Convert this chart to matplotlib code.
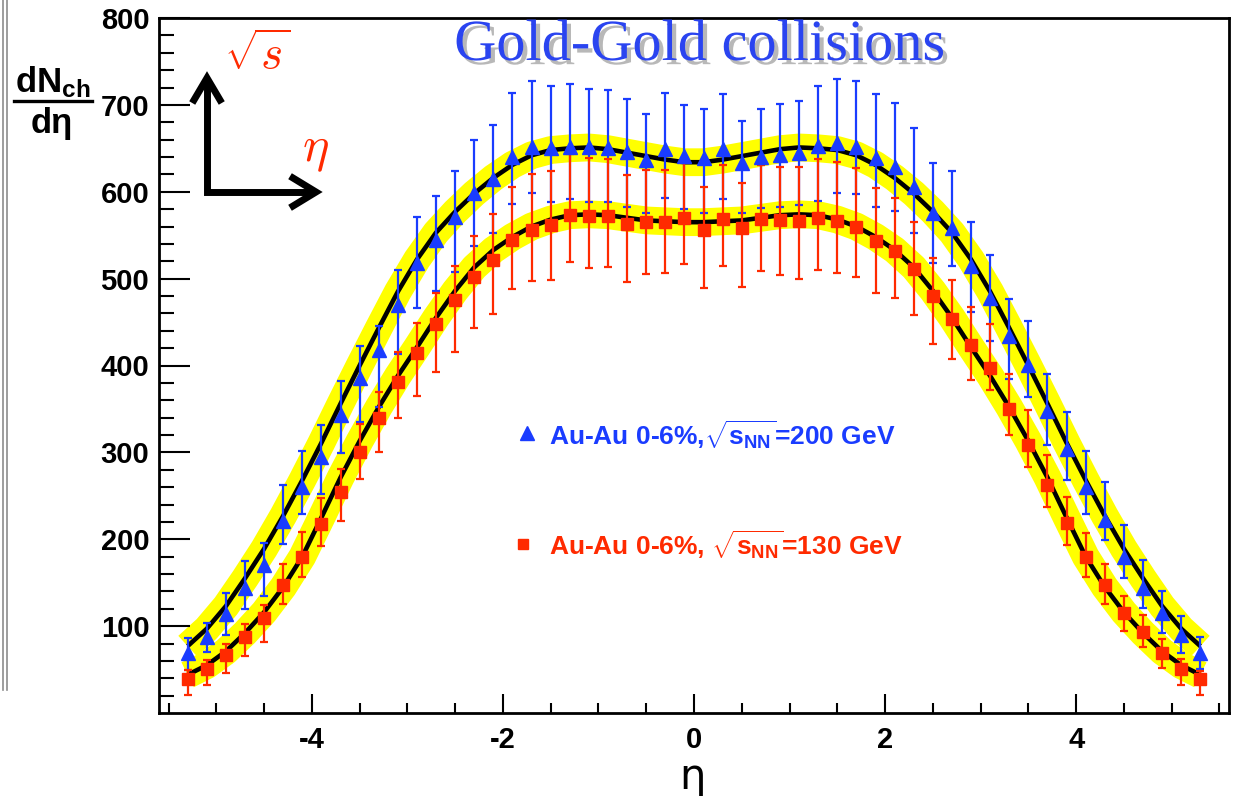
import numpy as np
import matplotlib
matplotlib.use("Agg")
import matplotlib.pyplot as plt
import matplotlib.patheffects as pe
from matplotlib.lines import Line2D

# pseudorapidity bins
eta = np.round(np.arange(-5.3, 5.31, 0.2), 1)

# Au-Au 200 GeV (value, top of bar, bottom of bar)
blue_val = [69, 87, 114, 144, 170, 221, 260, 295, 343, 386, 418, 470, 518, 544, 571, 598, 615, 640,
            651, 650, 651, 651, 650, 646, 636, 649, 641, 639, 649, 633, 640, 642, 645, 653, 656, 651,
            639, 629, 606, 575, 558, 515, 478, 434, 401, 348, 304, 260, 222, 180, 144, 115, 90, 69]
blue_hi = [86, 104, 138, 175, 196, 263, 302, 331, 382, 423, 445, 510, 571, 595, 624, 659, 677, 714,
           728, 722, 724, 718, 717, 707, 689, 714, 700, 695, 712, 682, 695, 701, 704, 722, 730, 728,
           712, 702, 673, 633, 624, 565, 527, 476, 451, 390, 346, 302, 266, 216, 176, 141, 112, 87]
blue_lo = [50, 70, 90, 120, 135, 195, 229, 252, 299, 335, 352, 413, 466, 486, 508, 538, 552, 586,
           598, 588, 592, 588, 588, 582, 576, 593, 580, 576, 592, 575, 581, 583, 585, 589, 598, 597,
           583, 578, 553, 518, 514, 462, 428, 384, 364, 308, 268, 229, 199, 155, 121, 92, 69, 51]

# Au-Au 130 GeV
red_val = [39, 51, 67, 88, 109, 147, 180, 218, 254, 301, 339, 381, 414, 448, 475, 502, 522, 544,
           556, 562, 573, 572, 572, 563, 565, 565, 570, 556, 569, 558, 569, 567, 566, 570, 566, 560,
           543, 532, 511, 480, 454, 424, 397, 350, 308, 262, 219, 180, 147, 115, 93, 69, 51, 39]
red_hi = [49, 61, 79, 102, 124, 172, 208, 248, 281, 333, 370, 416, 449, 484, 515, 549, 574, 606,
          620, 624, 644, 639, 638, 619, 625, 625, 633, 606, 631, 610, 631, 629, 628, 638, 634, 627,
          604, 593, 565, 524, 498, 467, 448, 390, 349, 297, 249, 207, 172, 135, 113, 85, 62, 48]
red_lo = [21, 32, 46, 66, 82, 125, 157, 192, 221, 269, 300, 339, 365, 392, 415, 443, 459, 488,
          497, 498, 519, 512, 513, 496, 505, 507, 517, 489, 514, 490, 509, 504, 500, 510, 507, 502,
          484, 478, 458, 425, 407, 383, 372, 320, 283, 237, 193, 156, 125, 94, 76, 52, 32, 21]

# fitted curves, |eta| = 0.1 ... 5.3
blue_fit_half = [634, 637, 641, 645, 649, 651, 650, 648, 642, 631, 616, 598, 577, 553, 522, 485,
                 443, 400, 356, 311, 268, 227, 189, 155, 123, 97, 77]
red_fit_half = [565, 566, 567, 570, 573, 574, 573, 568, 560, 548, 533, 513, 486, 455, 421, 388,
                352, 313, 271, 225, 180, 145, 116, 92, 71, 55, 44]
blue_fit = blue_fit_half[::-1] + blue_fit_half
red_fit = red_fit_half[::-1] + red_fit_half

BLUE = "#1a3cff"
RED = "#ff2a00"
W, H = 1236, 796

plt.rcParams["mathtext.fontset"] = "custom"
plt.rcParams["mathtext.rm"] = "Liberation Sans:bold"
plt.rcParams["mathtext.it"] = "Liberation Sans:bold"
plt.rcParams["mathtext.bf"] = "Liberation Sans:bold"

fig = plt.figure(figsize=(W / 100, H / 100), dpi=100)
ax = fig.add_axes([159 / W, 1 - 713 / H, (1229 - 159) / W, (713 - 18) / H])


def fx(x):
    return x / W


def fy(y):
    return 1 - y / H


for fit in (blue_fit, red_fit):
    ax.plot(eta, fit, color="#ffff00", lw=20, solid_capstyle="butt", solid_joinstyle="round", zorder=1)
    ax.plot(eta, fit, color="black", lw=3.3, solid_capstyle="butt", solid_joinstyle="round", zorder=2)

for val, hi, lo, col, mk, ms in [(blue_val, blue_hi, blue_lo, BLUE, "^", 10),
                                 (red_val, red_hi, red_lo, RED, "s", 8.5)]:
    val = np.array(val)
    yerr = [val - np.array(lo), np.array(hi) - val]
    ax.errorbar(eta, val, yerr=yerr, fmt=mk, color=col, ms=ms, mec=col, elinewidth=1.6,
                capsize=3, capthick=1.6, zorder=3)

ax.set_xlim(-5.6, 5.6)
ax.set_ylim(0, 800)
ax.set_xticks([-4, -2, 0, 2, 4])
ax.set_xticklabels(["-4", "-2", "0", "2", "4"])
ax.set_xticks(np.arange(-5.5, 5.6, 0.5), minor=True)
ax.set_yticks(np.arange(100, 801, 100))
ax.set_yticks(np.arange(20, 800, 20), minor=True)
ax.tick_params(axis="y", which="major", direction="in", length=22, width=1.5, pad=7, labelsize=21)
ax.tick_params(axis="y", which="minor", direction="in", length=11, width=1.5)
ax.tick_params(axis="x", which="major", direction="in", length=14, width=1.5, pad=9, labelsize=21)
ax.tick_params(axis="x", which="minor", direction="in", length=7, width=1.5)
for lab in ax.get_xticklabels() + ax.get_yticklabels():
    lab.set_fontweight("bold")
    lab.set_fontfamily("Liberation Sans")
for s in ax.spines.values():
    s.set_linewidth(2)

# title
fig.text(fx(700), fy(46), "Gold-Gold collisions", ha="center", va="center", color="#2a44f0",
         fontsize=42, family="Liberation Serif",
         path_effects=[pe.SimplePatchShadow(offset=(3, -3), shadow_rgbFace="0.45", alpha=0.5), pe.Normal()])

# y label as fraction
fig.text(fx(53), fy(82), r"dN$_{ch}$", ha="center", va="center", fontsize=25, fontweight="bold",
         family="Liberation Sans")
fig.add_artist(Line2D([fx(14), fx(92)], [fy(101), fy(101)], color="black", lw=2.4))
fig.text(fx(52), fy(124), "d\u03b7", ha="center", va="center", fontsize=25, fontweight="bold",
         family="Liberation Sans")
fig.text(fx(692), fy(777), "\u03b7", ha="center", va="center", fontsize=30, family="DejaVu Sans")

# axes sketch
fig.add_artist(Line2D([fx(207), fx(207), fx(314)], [fy(79), fy(192), fy(192)], color="black", lw=5,
                      solid_joinstyle="miter", solid_capstyle="butt"))
fig.add_artist(Line2D([fx(194), fx(207), fx(220)], [fy(100), fy(78), fy(100)], color="black", lw=5,
                      solid_joinstyle="miter"))
fig.add_artist(Line2D([fx(293), fx(316), fx(293)], [fy(178), fy(192), fy(206)], color="black", lw=5,
                      solid_joinstyle="miter"))
fig.text(fx(257), fy(57), r"$\sqrt{s}$", ha="center", va="center", color=RED, fontsize=34,
         math_fontfamily="cm")
fig.text(fx(315), fy(150), r"$\eta$", ha="center", va="center", color=RED, fontsize=36,
         math_fontfamily="cm")

# legend
fig.add_artist(Line2D([fx(527)], [fy(433)], marker="^", color=BLUE, ms=10, ls="none"))
fig.add_artist(Line2D([fx(523)], [fy(544)], marker="s", color=RED, ms=7.5, ls="none"))
fig.text(fx(549), fy(435), r"Au-Au 0-6%,$\sqrt{s_{NN}}$=200 GeV", ha="left", va="center", color=BLUE,
         fontsize=19, fontweight="bold", family="Liberation Sans")
fig.text(fx(549), fy(545), r"Au-Au 0-6%, $\sqrt{s_{NN}}$=130 GeV", ha="left", va="center", color=RED,
         fontsize=19, fontweight="bold", family="Liberation Sans")

# window edge lines
fig.add_artist(Line2D([fx(3), fx(3)], [fy(0), fy(690)], color="0.55", lw=1.2))
fig.add_artist(Line2D([fx(7), fx(7)], [fy(0), fy(690)], color="0.55", lw=1.2))

fig.savefig("out.png", dpi=100)
